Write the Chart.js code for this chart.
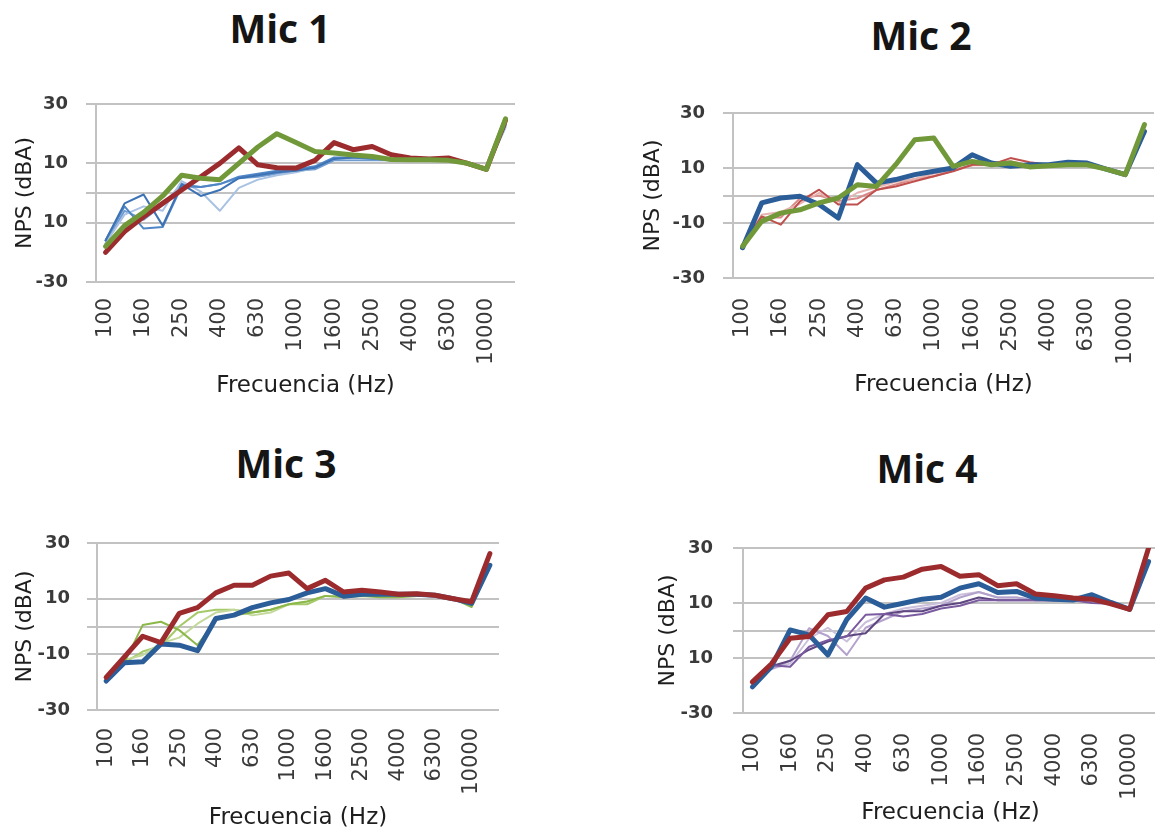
<!DOCTYPE html>
<html lang="es">
<head>
<meta charset="utf-8">
<title>NPS por micrófono</title>
<script src="https://cdn.jsdelivr.net/npm/chart.js@4/dist/chart.umd.min.js"></script>
<style>
    html, body {
        margin: 0;
        padding: 0;
        background: #ffffff;
        width: 1155px;
        height: 829px;
        overflow: hidden;
    }
    .mic {
        position: absolute;
        width: 200px;
        text-align: center;
        font: bold 39px 'Open Sans', sans-serif;
        line-height: 1;
        color: #151515;
        margin: 0;
    }
    canvas {
        position: absolute;
    }
</style>
</head>
<body>
<h2 class="mic" style="left:180px; top:8px;">Mic 1</h2>
<h2 class="mic" style="left:821px; top:15px;">Mic 2</h2>
<h2 class="mic" style="left:186px; top:443px;">Mic 3</h2>
<h2 class="mic" style="left:827px; top:448px;">Mic 4</h2>

<canvas id="graficaMic1" width="515" height="360" style="left:0px; top:50px;"></canvas>
<canvas id="graficaMic2" width="514" height="360" style="left:640px; top:50px;"></canvas>
<canvas id="graficaMic3" width="499" height="365" style="left:0px; top:470px;"></canvas>
<canvas id="graficaMic4" width="518" height="365" style="left:640px; top:470px;"></canvas>

<script>
// ── Bandas de tercio de octava (Hz) ─────────────────────────────────────────
const bandas = ['100', '125', '160', '200', '250', '315', '400', '500', '630', '800',
    '1000', '1250', '1600', '2000', '2500', '3150', '4000', '5000', '6300', '8000',
    '10000', '12500'];

// ── Eje Y: líneas de referencia y sus rótulos por gráfico ──────────────────
const valoresY = [-30, -10, 0, 10, 30];
const etiquetasYMic1 = ['-30', '10', '', '10', '30'];
const etiquetasYMic2 = ['-30', '-10', '', '10', '30'];
const etiquetasYMic3 = ['-30', '-10', '', '10', '30'];
const etiquetasYMic4 = ['-30', '10', '', '10', '30'];

// ── Mic 1 (dBA) ─────────────────────────────────────────────────────────────
const mic1Verde = [-18, -11, -6.5, -1, 6, 5, 4.5, 10, 15.5, 20, 17, 14, 13.5, 12.8, 12.3, 11.3, 11.2, 11.2, 11, 10, 8, 25];
const mic1Rojo = [-20, -13, -8, -3.5, 1, 5.5, 10, 15.2, 9.5, 8.5, 8.4, 11, 17, 14.6, 15.7, 12.9, 11.8, 11.5, 11.8, 10, 8, 24.5];
const mic1AzulA = [-16, -3.5, -0.5, -11, 3, -1, 1, 5, 6, 7, 7.5, 8.5, 11.5, 12, 12, 11.2, 11, 11, 11, 10, 8, 23];
const mic1AzulB = [-16, -4.5, -12, -11.5, 2.3, 2, 3, 5.5, 6.5, 7.5, 8, 9, 12, 12, 11.5, 11, 11, 11, 11, 10, 8, 23];
const mic1AzulC = [-17, -7.3, -4.5, -6, 4, 0.5, -6, 1.7, 4.5, 6, 7, 8.5, 11.5, 11.5, 11.5, 11, 11, 11, 11, 10, 8, 22];
const mic1AzulD = [-17, -6, -9, -4, 3, 2, 3, 5, 5.5, 6.5, 7.5, 8, 11, 11, 11, 11, 11, 11, 11, 10, 8, 22.5];

// ── Mic 2 (dBA) ─────────────────────────────────────────────────────────────
const mic2Verde = [-18.5, -9.4, -6.4, -5.2, -2.7, -0.9, 3.9, 3.3, 11.2, 20.3, 20.9, 10.6, 12.4, 11.2, 11.8, 10.4, 10.8, 11.2, 11.2, 9.6, 7.6, 25.8];
const mic2Azul = [-19, -2.7, -0.9, -0.3, -3.3, -8.2, 11.2, 4.5, 5.8, 7.6, 8.8, 10, 14.8, 11.8, 10.6, 11.2, 11.2, 12.1, 11.8, 9.6, 7.6, 23.3];
const mic2RojoA = [-18, -7.6, -10.6, -2.1, 2.1, -3.3, -3.3, 2.1, 3.3, 5.2, 7, 8.8, 11.2, 11.2, 13.6, 12.1, 11.2, 11.5, 11.5, 9.6, 7.6, 23];
const mic2RojoB = [-18, -7, -6, -3, 1, -3, 1, 3, 5, 6, 8, 9, 11, 11, 12, 11, 11, 11, 11, 10, 8, 23];
const mic2RojoC = [-18, -8, -8, -1, 0, -2, -1, 2, 4, 6, 7, 9, 11, 12, 12.5, 11, 11, 11, 11, 10, 8, 23];

// ── Mic 3 (dBA) ─────────────────────────────────────────────────────────────
const mic3Rojo = [-18.3, -10.9, -3.5, -5.8, 4.7, 6.8, 12.1, 14.8, 14.8, 18.1, 19.2, 13.6, 16.6, 12.4, 13, 12.4, 11.6, 11.8, 11.2, 10, 8.9, 26.2];
const mic3Azul = [-19.6, -13, -12.7, -6.3, -6.7, -8.7, 2.9, 4.1, 6.8, 8.5, 9.7, 12.1, 13.6, 10.9, 11.6, 11.6, 11.6, 11.6, 11.2, 10, 8.3, 22];
const mic3VerdeA = [-19, -13, 0.5, 1.7, -1.3, -6.7, 2.3, 4, 5, 6, 8, 9, 11, 10.5, 11, 10.5, 10.5, 11, 11, 10, 7, 22];
const mic3VerdeB = [-19, -12, -10.3, -6, -4, 1, 5, 6, 4, 5, 8, 9, 11, 11, 11, 11, 11, 11, 11, 10, 7.5, 22];
const mic3VerdeC = [-20, -13, -9, -7, 0, 5, 6, 6, 5, 6, 8, 8, 11, 11, 11, 11, 11, 11, 11, 10, 8, 22];

// ── Mic 4 (dBA) ─────────────────────────────────────────────────────────────
const mic4Rojo = [-18.7, -12.2, -2.8, -2.2, 5.7, 6.9, 15.4, 18.4, 19.4, 22.3, 23.3, 19.7, 20.3, 16.3, 17, 13.3, 12.6, 11.8, 11.4, 9.7, 7.7, 30];
const mic4Azul = [-20.5, -13.2, 0.2, -1.6, -8.9, 4, 11.8, 8.5, 9.9, 11.4, 12.1, 15.4, 17, 13.8, 14.2, 11.8, 11.4, 11.1, 13, 10.2, 7.7, 25.1];
const mic4MoradoA = [-19, -12.6, -13.2, -5.9, -3.5, -2.2, 5.7, 6, 5.1, 6, 8, 9, 11, 11, 11, 11, 11, 11, 10, 9.7, 7.7, 25];
const mic4MoradoB = [-19, -13, -11, -7, -4, -2, -1, 6, 7, 7, 9, 10, 12, 11, 11, 11, 11, 11, 11, 10, 8, 25];
const mic4MoradoC = [-19, -14, -11, 0.8, -2, -8.9, 1, 4, 7, 8, 9, 12, 14, 12, 12, 11, 11, 11, 11, 10, 8, 25];
const mic4MoradoD = [-19, -14, -12, -3, 1, -4, 3, 6, 8, 9, 10, 13, 14, 12, 12, 11, 11, 11, 11, 10, 8, 25];

// ── Estilo común ────────────────────────────────────────────────────────────
const colorRejilla = '#c2c2c2';
const colorTexto = '#1e1e1e';
const colorTicks = '#3a3a3a';
const GRUESA = 5;
const FINA = 2;

/**
 * Crea una serie de línea (las gruesas se declaran primero para quedar encima).
 */
function serie(datos, color, grosor) {
    return {
        data: datos,
        borderColor: color,
        backgroundColor: color,
        borderWidth: grosor,
        pointRadius: 0,
        tension: 0,
        fill: false,
        borderJoinStyle: 'round',
        borderCapStyle: 'round',
    };
}

/**
 * Dibuja un gráfico de NPS vs frecuencia en el canvas indicado.
 * @param {string} id       id del <canvas>
 * @param {Array}  series   datasets ya construidos
 * @param {Object} cfg      medidas del panel (márgenes, ejes, rótulos)
 */
function crearGrafico(id, series, cfg) {
    const canvas = document.getElementById(id);
    if (!canvas) return;

    new Chart(canvas.getContext('2d'), {
        type: 'line',
        data: { labels: bandas, datasets: series },
        options: {
            responsive: false,
            animation: false,
            layout: {
                autoPadding: false,
                padding: { top: cfg.arriba, left: 0, right: 0, bottom: 0 },
            },
            plugins: {
                legend: { display: false },
                tooltip: { enabled: false },
            },
            scales: {
                x: {
                    offset: true,
                    grid: { display: false, drawTicks: false },
                    border: { display: false },
                    ticks: {
                        autoSkip: false,
                        minRotation: 90,
                        maxRotation: 90,
                        padding: cfg.padX,
                        color: colorTicks,
                        font: { family: 'DejaVu Sans', size: 21 },
                        // sólo una banda de cada dos lleva rótulo
                        callback: (val, i) => (i % 2 === 0 ? bandas[i] : ''),
                    },
                    title: {
                        display: true,
                        text: 'Frecuencia (Hz)',
                        color: colorTexto,
                        font: { family: 'DejaVu Sans', size: 23 },
                        padding: { top: 0, bottom: cfg.tituloX },
                    },
                    // alto fijo y sin el margen lateral que reservan los rótulos girados
                    afterFit: s => {
                        s.height = cfg.altoX;
                        s.paddingLeft = 0;
                        s.paddingRight = 0;
                    },
                },
                y: {
                    min: -30,
                    max: 30,
                    afterBuildTicks: s => { s.ticks = valoresY.map(v => ({ value: v })); },
                    ticks: {
                        padding: cfg.padY,
                        color: colorTicks,
                        font: { family: 'DejaVu Sans', size: 18, weight: 'bold' },
                        callback: val => cfg.etiquetasY[valoresY.indexOf(val)],
                    },
                    grid: { color: colorRejilla, lineWidth: 2, tickLength: 10 },
                    border: { color: colorRejilla, width: 2 },
                    title: {
                        display: true,
                        text: 'NPS (dBA)',
                        color: colorTexto,
                        font: { family: 'DejaVu Sans', size: 22 },
                        padding: { top: cfg.tituloY, bottom: 0 },
                    },
                    afterFit: s => { s.width = cfg.anchoY; },
                },
            },
        },
    });
}

crearGrafico('graficaMic1', [
    serie(mic1Verde, '#71993a', GRUESA),
    serie(mic1Rojo, '#9c2b2e', GRUESA),
    serie(mic1AzulA, '#3d73b5', FINA),
    serie(mic1AzulB, '#4f86c6', FINA),
    serie(mic1AzulC, '#a9c2e3', FINA),
    serie(mic1AzulD, '#6f9bd1', FINA),
], { arriba: 54, altoX: 128, anchoY: 96, padX: 16, padY: 18, tituloX: 10, tituloY: 12, etiquetasY: etiquetasYMic1 });

crearGrafico('graficaMic2', [
    serie(mic2Verde, '#71993a', GRUESA),
    serie(mic2Azul, '#2b5d98', GRUESA),
    serie(mic2RojoA, '#c0504d', FINA),
    serie(mic2RojoB, '#e6b3b1', FINA),
    serie(mic2RojoC, '#d98a88', FINA),
], { arriba: 63, altoX: 132, anchoY: 93, padX: 20, padY: 18, tituloX: 11, tituloY: 0, etiquetasY: etiquetasYMic2 });

crearGrafico('graficaMic3', [
    serie(mic3Rojo, '#9c2b2e', GRUESA),
    serie(mic3Azul, '#2b5d98', GRUESA),
    serie(mic3VerdeA, '#8cb84a', FINA),
    serie(mic3VerdeB, '#c3d99b', FINA),
    serie(mic3VerdeC, '#a6c96a', FINA),
], { arriba: 73, altoX: 125, anchoY: 97, padX: 18, padY: 17, tituloX: 3, tituloY: 12, etiquetasY: etiquetasYMic3 });

crearGrafico('graficaMic4', [
    serie(mic4Rojo, '#9c2b2e', GRUESA),
    serie(mic4Azul, '#2b5d98', GRUESA),
    serie(mic4MoradoA, '#7a5ba0', FINA),
    serie(mic4MoradoB, '#5e4680', FINA),
    serie(mic4MoradoC, '#b3a2cc', FINA),
    serie(mic4MoradoD, '#cbc0dc', FINA),
], { arriba: 78, altoX: 122, anchoY: 103, padX: 20, padY: 20, tituloX: 8, tituloY: 15, etiquetasY: etiquetasYMic4 });
</script>
</body>
</html>
